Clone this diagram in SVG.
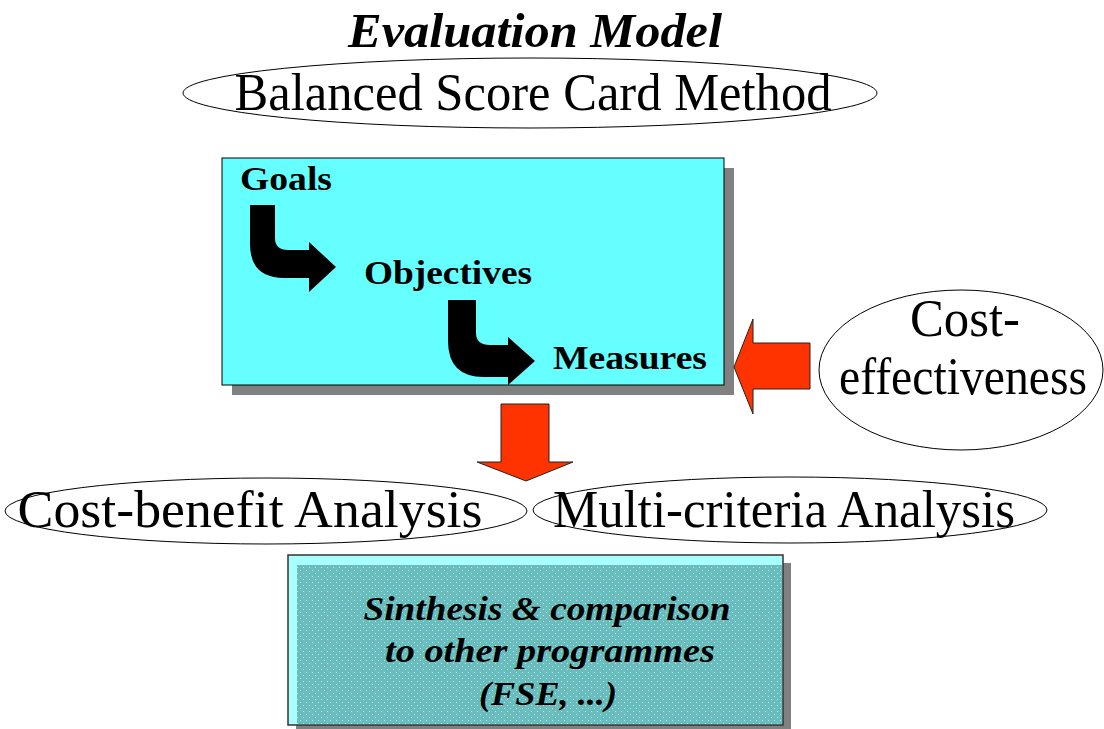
<svg xmlns="http://www.w3.org/2000/svg" width="1104" height="729" viewBox="0 0 1104 729">
<defs>
<style>
.ell{fill:#fff;stroke:#000;stroke-width:1}
.big{font-family:"Liberation Serif",serif;font-size:52px;fill:#000}
.bold{font-family:"Liberation Serif",serif;font-weight:bold;font-size:33px;fill:#000}
.bi{font-family:"Liberation Serif",serif;font-weight:bold;font-style:italic;fill:#000}
.red{fill:#FF3300;stroke:#222;stroke-width:1}
.blk{fill:#000}
.shadow{fill:#808080}
</style>
<pattern id="dith" width="6" height="6" patternUnits="userSpaceOnUse">
<rect width="6" height="6" fill="#6BBDBD"/>
<rect x="0" y="0" width="1" height="1" fill="#9FEFEF"/>
<rect x="3" y="3" width="1" height="1" fill="#9FEFEF"/>
</pattern>
</defs>
<rect width="1104" height="729" fill="#fff"/>

<g id="title">
<text class="bi" x="535" y="47" font-size="48" text-anchor="middle" textLength="374" lengthAdjust="spacingAndGlyphs">Evaluation Model</text>
</g>

<g id="bsc">
<ellipse class="ell" cx="530" cy="93" rx="347" ry="35"/>
<text class="big" x="533" y="110" text-anchor="middle" textLength="597" lengthAdjust="spacingAndGlyphs">Balanced Score Card Method</text>
</g>

<g id="goals-box">
<rect class="shadow" x="232" y="168" width="502" height="227"/>
<rect x="222" y="158" width="502" height="227" fill="#66FFFF" stroke="#000" stroke-width="1"/>
<text class="bold" x="240" y="190" textLength="92" lengthAdjust="spacingAndGlyphs">Goals</text>
<text class="bold" x="364" y="284" textLength="168" lengthAdjust="spacingAndGlyphs">Objectives</text>
<text class="bold" x="553" y="369" textLength="154" lengthAdjust="spacingAndGlyphs">Measures</text>
<path class="blk" d="M250,205 L275,205 L275,238 Q275,250 288,250 L309,250 L309,242 L336,267 L309,292 L309,278 L284,278 Q250,278 250,244 Z"/>
<path class="blk" d="M448,300 L476,300 L476,333 Q476,345 490,345 L508,345 L508,337 L535,361 L508,385 L508,377 L484,377 Q448,377 448,341 Z"/>
</g>

<g id="cost-effectiveness">
<ellipse class="ell" cx="961" cy="370" rx="142" ry="80"/>
<text class="big" x="965" y="336" text-anchor="middle" textLength="110" lengthAdjust="spacingAndGlyphs">Cost-</text>
<text class="big" x="963" y="394" font-size="50" text-anchor="middle" textLength="248" lengthAdjust="spacingAndGlyphs">effectiveness</text>
</g>

<g id="cost-benefit">
<ellipse class="ell" cx="266" cy="511" rx="261" ry="33"/>
<text class="big" x="250" y="527" text-anchor="middle" textLength="465" lengthAdjust="spacingAndGlyphs">Cost-benefit Analysis</text>
</g>

<g id="multi-criteria">
<ellipse class="ell" cx="790" cy="510" rx="257" ry="33"/>
<text class="big" x="784" y="527" text-anchor="middle" textLength="462" lengthAdjust="spacingAndGlyphs">Multi-criteria Analysis</text>
</g>

<g id="synthesis">
<rect class="shadow" x="296" y="563" width="495" height="170"/>
<rect x="288" y="555" width="495" height="170" fill="#A8FFFF" stroke="#333" stroke-width="1.5"/>
<rect x="297" y="565" width="485" height="159" fill="url(#dith)"/>
<text class="bi" x="547" y="620" font-size="33" text-anchor="middle" textLength="367" lengthAdjust="spacingAndGlyphs">Sinthesis &amp; comparison</text>
<text class="bi" x="550" y="662" font-size="33" text-anchor="middle" textLength="330" lengthAdjust="spacingAndGlyphs">to other programmes</text>
<text class="bi" x="548" y="705" font-size="33" text-anchor="middle" textLength="138" lengthAdjust="spacingAndGlyphs">(FSE, ...)</text>
</g>

<g id="connectors">
<path class="red" d="M810,343 L753,343 L753,319 L734,367 L753,414 L753,389 L810,389 Z"/>
<path class="red" d="M501,404 L549,404 L549,462 L573,462 L526,481 L477,462 L501,462 Z"/>
</g>
</svg>
